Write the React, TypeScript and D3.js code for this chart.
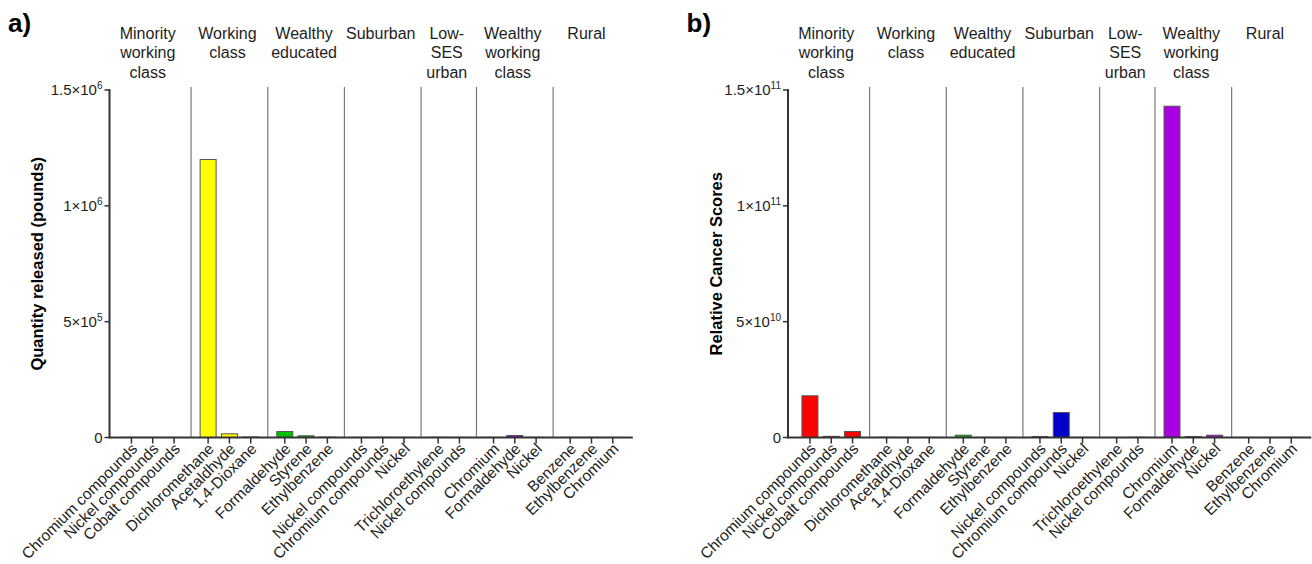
import React from "react";
import * as d3 from "d3";

// Community groups shown along the top of each panel (one entry per line of text)
const GROUP_NAMES: string[][] = [
  ["Minority", "working", "class"],
  ["Working", "class"],
  ["Wealthy", "educated"],
  ["Suburban"],
  ["Low-", "SES", "urban"],
  ["Wealthy", "working", "class"],
  ["Rural"],
];

const GROUP_COLORS = ["#ff0000", "#ffff00", "#00c000", "#0000c8", "#ff8c00", "#a800e0", "#00b0b0"];

const CHEMICALS = [
  "Chromium compounds", "Nickel compounds", "Cobalt compounds",
  "Dichloromethane", "Acetaldhyde", "1,4-Dioxane",
  "Formaldehyde", "Styrene", "Ethylbenzene",
  "Nickel compounds", "Chromium compounds", "Nickel",
  "Trichloroethylene", "Nickel compounds",
  "Chromium", "Formaldehyde", "Nickel",
  "Benzene", "Ethylbenzene", "Chromium",
];

const CHEMICAL_GROUP = [0, 0, 0, 1, 1, 1, 2, 2, 2, 3, 3, 3, 4, 4, 5, 5, 5, 6, 6, 6];

// a) quantity released, pounds
const RELEASED_POUNDS = [
  450, 300, 150,
  1200000, 16000, 2000,
  26000, 7300, 1500,
  500, 800, 400,
  1000, 300,
  600, 8600, 900,
  500, 400, 200,
];

// b) relative cancer scores
const CANCER_SCORES = [
  1.8e10, 5e8, 2.6e9,
  1e8, 3e7, 5e7,
  1.0e9, 5e7, 3e7,
  4e8, 1.08e10, 5e7,
  2e7, 1e8,
  1.43e11, 4e8, 1.0e9,
  3e7, 2e7, 5e7,
];

const TICKS_A = [0, 5e5, 1e6, 1.5e6];
const TICK_LABELS_A = ["0", "5×10^5", "1×10^6", "1.5×10^6"];
const TICKS_B = [0, 5e10, 1e11, 1.5e11];
const TICK_LABELS_B = ["0", "5×10^10", "1×10^11", "1.5×10^11"];

const FONT = "'Liberation Sans', Arial, Helvetica, sans-serif";
const TEXT = "#1e1e1e";
const AXIS = "#333333";

const WIDTH = 1312;
const HEIGHT = 564;
const PLOT_TOP = 90;
const PLOT_BOTTOM = 437.5;
const PLOT_W = 523.3;
const GROUP_GAP = 0.6;
const BAR_FRAC = 0.75;

const slot = (i: number) => i + CHEMICAL_GROUP[i] * GROUP_GAP;

function TickLabel({ label, x, y }: { label: string; x: number; y: number }) {
  const [base, exp] = label.split("^");
  return (
    <text x={x} y={y} dy="0.35em" textAnchor="end" fontSize={15} fill={TEXT} fontFamily={FONT}>
      <tspan>{base}</tspan>
      {exp !== undefined && (
        <tspan dy={-6} fontSize={10}>
          {exp}
        </tspan>
      )}
    </text>
  );
}

interface PanelProps {
  left: number;
  letter: string;
  title: string;
  values: number[];
  ticks: number[];
  tickLabels: string[];
}

function Panel({ left, letter, title, values, ticks, tickLabels }: PanelProps) {
  const last = CHEMICALS.length - 1;
  const x = d3
    .scaleLinear()
    .domain([-1.03, slot(last) + 0.94])
    .range([left, left + PLOT_W]);
  const y = d3
    .scaleLinear()
    .domain([0, ticks[ticks.length - 1]])
    .range([PLOT_BOTTOM, PLOT_TOP]);
  const barW = x(BAR_FRAC) - x(0);

  const groupIdx = d3.range(GROUP_NAMES.length);
  const members = groupIdx.map((g) => d3.range(CHEMICALS.length).filter((i) => CHEMICAL_GROUP[i] === g));
  const groupCenter = members.map((m) => x(d3.mean(m.map(slot)) as number));
  const separators = groupIdx.slice(1).map((g) => {
    const prevLast = members[g - 1][members[g - 1].length - 1];
    const first = members[g][0];
    return x((slot(prevLast) + slot(first)) / 2);
  });

  const x0 = x.range()[0];
  const x1 = x.range()[1];

  return (
    <g>
      <text x={left - 101.5} y={32} fontSize={26} fontWeight="bold" fill="#000" fontFamily={FONT}>
        {letter}
      </text>

      {/* group headers */}
      {GROUP_NAMES.map((lines, g) => (
        <text
          key={"h" + g}
          x={groupCenter[g] - 2}
          y={38.5}
          textAnchor="middle"
          fontSize={16}
          fill={TEXT}
          fontFamily={FONT}
        >
          {lines.map((ln, k) => (
            <tspan key={k} x={groupCenter[g] - (g === 0 || g === 6 ? 5 : 2)} dy={k === 0 ? 0 : 19.5}>
              {ln}
            </tspan>
          ))}
        </text>
      ))}

      {/* group separators */}
      {separators.map((sx, k) => (
        <line key={"s" + k} x1={sx} x2={sx} y1={PLOT_TOP - 3} y2={PLOT_BOTTOM} stroke="#7a7a7a" strokeWidth={1.2} />
      ))}

      {/* bars */}
      {values.map((v, i) => (
        <rect
          key={"b" + i}
          x={x(slot(i)) - barW / 2}
          y={y(v)}
          width={barW}
          height={PLOT_BOTTOM - y(v)}
          fill={GROUP_COLORS[CHEMICAL_GROUP[i]]}
          stroke="#555"
          strokeWidth={1}
        />
      ))}

      {/* y axis */}
      <line x1={x0} x2={x0} y1={PLOT_TOP - 1} y2={PLOT_BOTTOM + 1} stroke={AXIS} strokeWidth={2} />
      {ticks.map((t, k) => (
        <g key={"yt" + k}>
          <line x1={x0 - 5} x2={x0} y1={y(t)} y2={y(t)} stroke={AXIS} strokeWidth={1.5} />
          <TickLabel label={tickLabels[k]} x={x0 - 7} y={y(t)} />
        </g>
      ))}
      <text
        transform={`translate(${left - 72},${(PLOT_TOP + PLOT_BOTTOM) / 2}) rotate(-90)`}
        textAnchor="middle"
        dy="0.35em"
        fontSize={16.5}
        fontWeight="bold"
        fill="#000"
        fontFamily={FONT}
      >
        {title}
      </text>

      {/* x axis */}
      <line x1={x0} x2={x1} y1={PLOT_BOTTOM} y2={PLOT_BOTTOM} stroke={AXIS} strokeWidth={2} />
      {CHEMICALS.map((name, i) => {
        const tx = x(slot(i));
        return (
          <g key={"xt" + i}>
            <line x1={tx} x2={tx} y1={PLOT_BOTTOM} y2={PLOT_BOTTOM + 6} stroke={AXIS} strokeWidth={1.5} />
            <text
              transform={`translate(${tx + 3},${PLOT_BOTTOM + 8.5}) rotate(-45)`}
              textAnchor="end"
              dy="0.35em"
              fontSize={15.5}
              fill={TEXT}
              fontFamily={FONT}
            >
              {name}
            </text>
          </g>
        );
      })}
    </g>
  );
}

export default function App() {
  return (
    <svg
      width={WIDTH}
      height={HEIGHT}
      viewBox={`0 0 ${WIDTH} ${HEIGHT}`}
      style={{ position: "absolute", left: 0, top: 0, background: "#fff" }}
    >
      <rect width={WIDTH} height={HEIGHT} fill="#fff" />
      <Panel
        left={109.5}
        letter="a)"
        title="Quantity released (pounds)"
        values={RELEASED_POUNDS}
        ticks={TICKS_A}
        tickLabels={TICK_LABELS_A}
      />
      <Panel
        left={788}
        letter="b)"
        title="Relative Cancer Scores"
        values={CANCER_SCORES}
        ticks={TICKS_B}
        tickLabels={TICK_LABELS_B}
      />
    </svg>
  );
}
